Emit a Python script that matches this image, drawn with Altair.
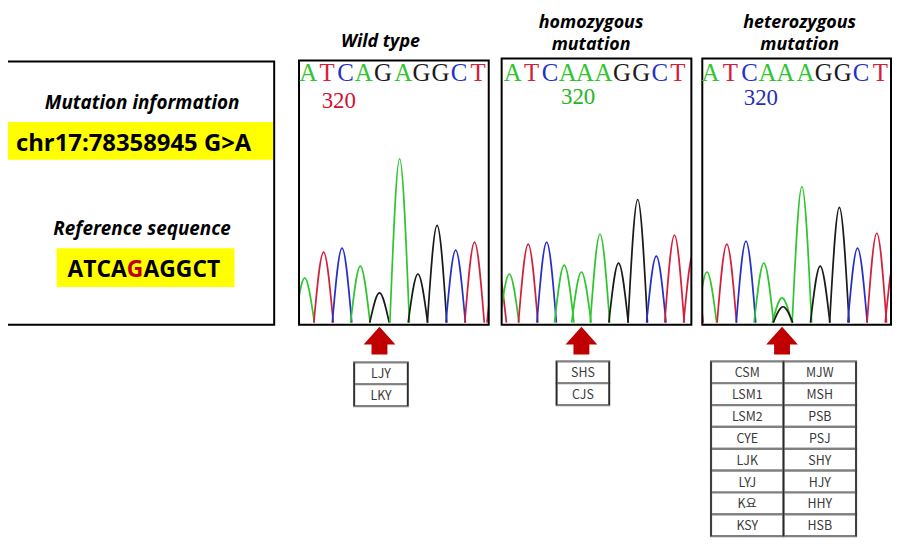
import altair as alt
import pandas as pd

# ---------------- data ----------------
mutation_info_title = "Mutation information"
mutation_info = "chr17:78358945 G>A"
reference_title = "Reference sequence"
reference_sequence = "ATCAGAGGCT"
mutated_index = 4

panel_titles = [["Wild type"], ["homozygous", "mutation"], ["heterozygous", "mutation"]]
panel_sequences = ["ATCAGAGGCT", "ATCAAAGGCT", "ATCAAAGGCT"]
position_label = "320"
position_label_colors = ["#D01030", "#22B522", "#1F2FB8"]

# chromatogram peaks: offset from panel left edge, intensity above baseline, base call
wt_pos = [5.7, 24.7, 43.3, 61.7, 81.0, 101.3, 119.7, 139.0, 157.7, 176.7, 199.0]
wt_int = [45, 71, 75, 57, 30, 165, 49, 98, 73, 81, 60]
wt_base = ["A", "T", "C", "A", "G", "A", "G", "G", "C", "T", "T"]

homo_pos = [7.7, 26.7, 45.3, 63.0, 80.3, 99.0, 117.7, 137.0, 155.7, 174.0, 193.0]
homo_int = [49, 79, 81, 58, 51, 89, 60, 124, 67, 88, 70]
homo_base = ["A", "T", "C", "A", "A", "A", "G", "G", "C", "T", "T"]

het_pos = [4.7, 24.7, 44.0, 62.0, 80.3, 100.3, 118.7, 138.0, 156.3, 175.7, 194.0]
het_int = [51, 79, 82, 60, 25, 137, 57, 116, 75, 90, 66]
het_base = ["A", "T", "C", "A", "A", "A", "G", "G", "C", "T", "T"]
het_minor_pos = [81.3]
het_minor_int = [16]
het_minor_base = ["G"]

samples_wt = ["LJY", "LKY"]
samples_homo = ["SHS", "CJS"]
samples_het_left = ["CSM", "LSM1", "LSM2", "CYE", "LJK", "LYJ", "K요", "KSY"]
samples_het_right = ["MJW", "MSH", "PSB", "PSJ", "SHY", "HJY", "HHY", "HSB"]

BASE_COLORS = {"A": "#2FC52F", "T": "#D2203A", "C": "#2530C8", "G": "#1A1A1A"}

# ---------------- layout ----------------
W, H = 890, 530
xs = alt.Scale(domain=[8, 8 + W], nice=False, zero=False)
ys = alt.Scale(domain=[8 + H, 8], nice=False, zero=False)

INFO_BOX = (7, 60, 276, 325)
PANELS = [(301, 59, 492, 325), (505, 57, 696, 325), (707, 57, 897, 325)]
BASELINE = 323
HW = 9.8
TITLE_X = [383, 595, 805]
LABEL_POS = [(341, 107), (582, 103), (766, 104)]
ROW_H = 22
TABLE_Y0 = [363, 362, 362]


def X(f="x"):
    return alt.X(f"{f}:Q", scale=xs, axis=None)


def Y(f="y"):
    return alt.Y(f"{f}:Q", scale=ys, axis=None)


def text_layer(rows, size, font, weight="normal", style="italic", align="center", baseline="alphabetic"):
    df = pd.DataFrame(rows, columns=["x", "y", "text", "color"])
    return alt.Chart(df).mark_text(
        fontSize=size, font=font, fontWeight=weight, fontStyle=style, align=align, baseline=baseline
    ).encode(x=X(), y=Y(), text="text:N", color=alt.Color("color:N", scale=None))


def rect_layer(rows, **kw):
    df = pd.DataFrame(rows, columns=["x", "y", "x2", "y2"])
    return alt.Chart(df).mark_rect(**kw).encode(x=X(), x2="x2:Q", y=Y(), y2="y2:Q")


# peaks
panels_data = [(wt_pos, wt_int, wt_base), (homo_pos, homo_int, homo_base), (het_pos, het_int, het_base)]
peak_rows = []
for p, (pos, inten, bases) in enumerate(panels_data):
    left = PANELS[p][0]
    peaks = list(zip(pos, inten, bases))
    if p == 2:
        peaks += list(zip(het_minor_pos, het_minor_int, het_minor_base))
    for i, (x, h, b) in enumerate(peaks):
        cx = left + x
        for dx, yy in [(-HW, BASELINE), (0, BASELINE - h), (HW, BASELINE)]:
            peak_rows.append(dict(pid=f"{p}-{i}", x=cx + dx, y=yy, color=BASE_COLORS[b]))
peaks_df = pd.DataFrame(peak_rows)
peak_layer = alt.Chart(peaks_df).mark_line(interpolate="monotone", strokeWidth=1.7).encode(
    x=X(), y=Y(), detail="pid:N", color=alt.Color("color:N", scale=None), order="x:Q"
)

masks = rect_layer(
    [(278, 140, 301, 326), (492, 140, 505, 326), (696, 140, 707, 326), (897, 140, 910, 326)],
    fill="white", strokeWidth=0,
)

boxes = rect_layer([INFO_BOX] + PANELS, fillOpacity=0, stroke="black", strokeWidth=2)

yellow = rect_layer([(8, 121, 275, 159), (57, 248, 236, 287)], fill="#FFFF00")

# letters in each panel
letter_rows = []
for p, seq in enumerate(panel_sequences):
    left = PANELS[p][0]
    pos = panels_data[p][0]
    for j, ch in enumerate(seq):
        letter_rows.append((left + pos[j] + 3.5, 80, ch, BASE_COLORS[ch]))
letters = text_layer(letter_rows, 25, "Liberation Serif", style="normal")

labels = text_layer(
    [(LABEL_POS[p][0], LABEL_POS[p][1], position_label, position_label_colors[p]) for p in range(3)],
    23, "Liberation Serif", style="normal",
)

title_rows = []
for p, lines in enumerate(panel_titles):
    if len(lines) == 1:
        title_rows.append((TITLE_X[p], 45, lines[0], "black"))
    else:
        title_rows.append((TITLE_X[p], 26, lines[0], "black"))
        title_rows.append((TITLE_X[p], 48, lines[1], "black"))
titles = text_layer(title_rows, 18, "Open Sans", weight="bold")

info_titles = text_layer(
    [(143, 108, mutation_info_title, "black"), (143, 235, reference_title, "black")],
    19, "Open Sans", weight="bold",
)
info_text = text_layer([(16, 150, mutation_info, "black")], 24, "Open Sans", weight="bold", style="normal", align="left")

ref_before = reference_sequence[:mutated_index]
ref_mut = reference_sequence[mutated_index]
ref_after = reference_sequence[mutated_index + 1:]
ref_parts = [
    text_layer([(127.5, 277, ref_before, "black")], 23, "Open Sans", weight="bold", style="normal", align="right"),
    text_layer([(136, 277, ref_mut, "#C00000")], 23, "Open Sans", weight="bold", style="normal"),
    text_layer([(144.5, 277, ref_after, "black")], 23, "Open Sans", weight="bold", style="normal", align="left"),
]

# arrows at the mutated position
arrow_df = pd.DataFrame(
    [dict(x=PANELS[p][0] + panels_data[p][0][mutated_index], y=341) for p in range(3)]
)
arrow_path = "M0,-0.875 L1,0.25 L0.5,0.25 L0.5,0.875 L-0.5,0.875 L-0.5,0.25 L-1,0.25 Z"
arrows = alt.Chart(arrow_df).mark_point(
    shape=arrow_path, filled=True, size=1024, color="#C00000", opacity=1, strokeWidth=0
).encode(x=X(), y=Y())

# sample tables
cell_rows, cell_text, vlines = [], [], []
tables = [(0, [samples_wt], 54), (1, [samples_homo], 53), (2, [samples_het_left, samples_het_right], 73)]
for p, cols, cw in tables:
    cx = PANELS[p][0] + panels_data[p][0][mutated_index] + 1.5
    x0 = cx - cw * len(cols) / 2
    y0 = TABLE_Y0[p]
    nrows = max(len(c) for c in cols)
    for c, names in enumerate(cols):
        for r, name in enumerate(names):
            xa, xb = x0 + c * cw, x0 + (c + 1) * cw
            ya, yb = y0 + r * ROW_H, y0 + (r + 1) * ROW_H
            cell_rows.append((xa, ya, xb, yb))
            cell_text.append(((xa + xb) / 2, (ya + yb) / 2 + 1, name, "#3a3a3a"))
    for c in range(len(cols) + 1):
        vlines.append((x0 + c * cw, y0, x0 + c * cw, y0 + nrows * ROW_H))
cells = rect_layer(cell_rows, fill="white", stroke="#808080", strokeWidth=2.2)
vrules = alt.Chart(pd.DataFrame(vlines, columns=["x", "y", "x2", "y2"])).mark_rule(
    color="#2a2a2a", strokeWidth=1.5
).encode(x=X(), y=Y(), y2="y2:Q")
cell_labels = text_layer(cell_text, 12.5, "Noto Sans CJK KR", style="normal", baseline="middle")

chart = alt.layer(
    peak_layer, masks, yellow, boxes, letters, labels, titles, info_titles, info_text,
    *ref_parts, arrows, cells, vrules, cell_labels,
).properties(
    width=W, height=H, padding=0, autosize=alt.AutoSizeParams(type="none")
).configure_view(stroke=None)

chart.save("out.html", embed_options={"renderer": "svg", "actions": False})
